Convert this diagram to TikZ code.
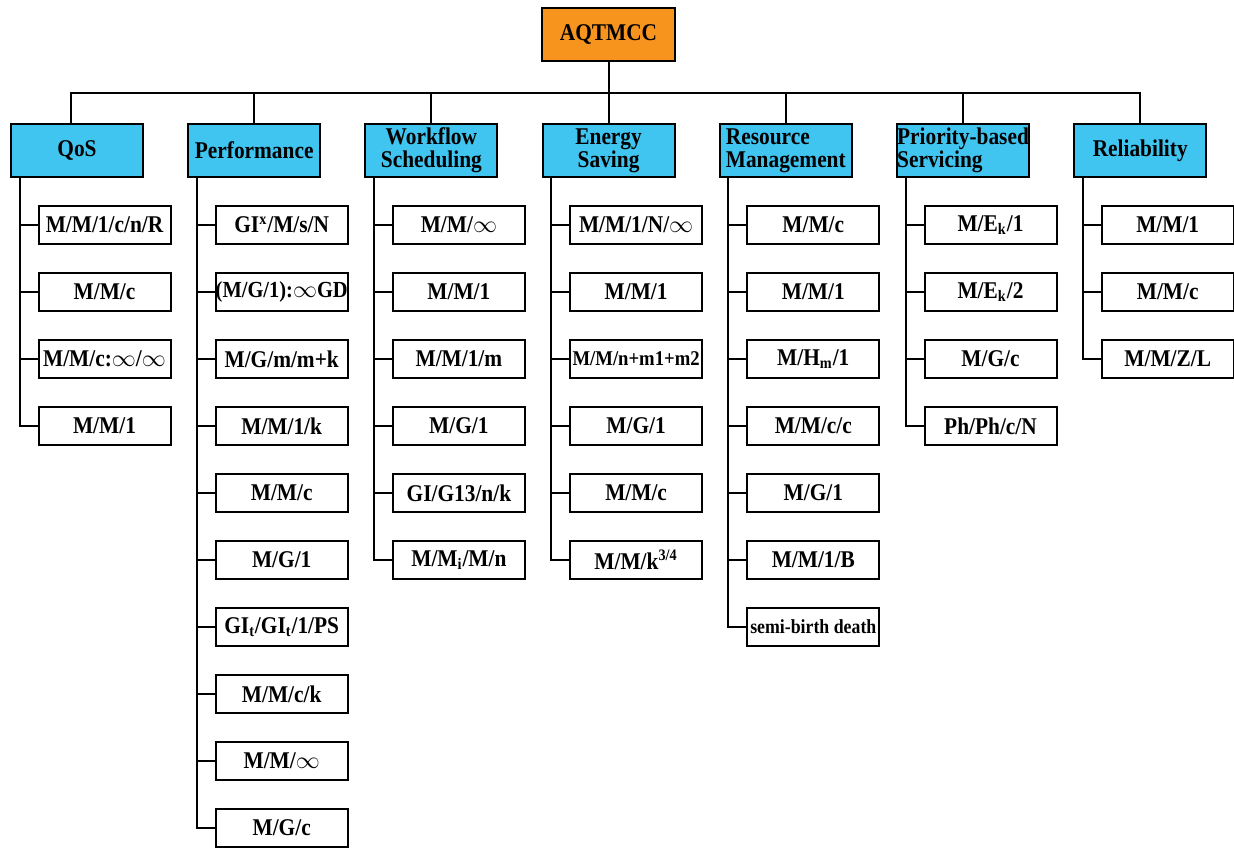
\documentclass[tikz,border=0pt]{standalone}
\usepackage{fontspec}
\setmainfont{Liberation Serif}[FakeStretch=0.89]
\usetikzlibrary{positioning}
\definecolor{rootorange}{RGB}{247,148,30}
\definecolor{catblue}{RGB}{64,196,240}
\tikzset{
	rootbox/.style={draw, fill=rootorange, minimum width=66.5pt, minimum height=26.5pt, inner sep=0pt, outer sep=0pt, font=\bfseries\fontsize{12}{11}\selectfont},
	catbox/.style={draw, fill=catblue, minimum width=66pt, minimum height=26.5pt, inner sep=0pt, outer sep=0pt, font=\bfseries\fontsize{12}{11.5}\selectfont},
	leafbox/.style={draw, fill=white, minimum width=66pt, minimum height=19pt, inner sep=0pt, outer sep=0pt, font=\bfseries\fontsize{12}{12}\selectfont},
}
\begin{document}
\begin{tikzpicture}[x=0.5pt, y=0.5pt, line width=1pt, node distance=14.5pt]
			\useasboundingbox (0,0) rectangle (1234,-847);
			% root and categories
			\node[rootbox](aqtmcc) at (608.5,-34.5)				{AQTMCC};
			\node[catbox](qos) at (77,-150.5)					{QoS};
			\node[catbox](perf)		[right=22.6pt of qos]		{Performance};
			\node[catbox, align=center](work)	[right=22.6pt of perf]	{Workflow\\Scheduling};
			\node[catbox, align=center](energy)	[right=22.6pt of work]	{Energy\\Saving};
			\node[catbox, align=left](resource)	[right=22.6pt of energy]	{Resource\\Management};
			\node[catbox, align=left](prio)		[right=22.6pt of resource]	{Priority-based\\Servicing};
			\node[catbox](rel)		[right=22.6pt of prio]		{Reliability};
			\coordinate(bus) at ([yshift=-16pt]aqtmcc.south);
			\draw(aqtmcc)      -- (bus);
			\draw([xshift=-3pt]qos.north)      |- (bus);
			\draw(perf.north)      |- (bus);
			\draw(work.north)      |- (bus);
			\draw(energy.north)      |- (bus);
			\draw(resource.north)      |- (bus);
			\draw(prio.north)      |- (bus);
			\draw(rel.north)      |- (bus);
			% QoS
			\node[leafbox](q1)	[below right=14.5pt and 13.75pt of qos.south west]	{M/M/1/c/n/R};
			\node[leafbox](q2)	[below=of q1]	{M/M/c};
			\node[leafbox](q3)	[below=of q2]	{M/M/c:$\infty$/$\infty$};
			\node[leafbox](q4)	[below=of q3]	{M/M/1};
			\coordinate(qosT) at ([xshift=4.25pt]qos.south west);
			\draw(q1.west) -| (qosT) (q2.west) -| (qosT) (q3.west) -| (qosT) (q4.west) -| (qosT);
			% Performance
			\node[leafbox](p1)	[below right=14.5pt and 13.75pt of perf.south west]	{GI\textsuperscript{x}/M/s/N};
			\node[leafbox, font=\bfseries\fontsize{11.5}{12}\selectfont](p2)	[below=of p1]	{(M/G/1):$\infty$GD};
			\node[leafbox](p3)	[below=of p2]	{M/G/m/m+k};
			\node[leafbox](p4)	[below=of p3]	{M/M/1/k};
			\node[leafbox](p5)	[below=of p4]	{M/M/c};
			\node[leafbox](p6)	[below=of p5]	{M/G/1};
			\node[leafbox](p7)	[below=of p6]	{GI\textsubscript{t}/GI\textsubscript{t}/1/PS};
			\node[leafbox](p8)	[below=of p7]	{M/M/c/k};
			\node[leafbox](p9)	[below=of p8]	{M/M/$\infty$};
			\node[leafbox](p10)	[below=of p9]	{M/G/c};
			\coordinate(perfT) at ([xshift=4.25pt]perf.south west);
			\draw(p1.west) -| (perfT) (p2.west) -| (perfT) (p3.west) -| (perfT) (p4.west) -| (perfT) (p5.west) -| (perfT)
				(p6.west) -| (perfT) (p7.west) -| (perfT) (p8.west) -| (perfT) (p9.west) -| (perfT) (p10.west) -| (perfT);
			% Workflow Scheduling
			\node[leafbox](w1)	[below right=14.5pt and 13.75pt of work.south west]	{M/M/$\infty$};
			\node[leafbox](w2)	[below=of w1]	{M/M/1};
			\node[leafbox](w3)	[below=of w2]	{M/M/1/m};
			\node[leafbox](w4)	[below=of w3]	{M/G/1};
			\node[leafbox](w5)	[below=of w4]	{GI/G13/n/k};
			\node[leafbox](w6)	[below=of w5]	{M/M\textsubscript{i}/M/n};
			\coordinate(workT) at ([xshift=4.25pt]work.south west);
			\draw(w1.west) -| (workT) (w2.west) -| (workT) (w3.west) -| (workT) (w4.west) -| (workT) (w5.west) -| (workT) (w6.west) -| (workT);
			% Energy Saving
			\node[leafbox](e1)	[below right=14.5pt and 13.75pt of energy.south west]	{M/M/1/N/$\infty$};
			\node[leafbox](e2)	[below=of e1]	{M/M/1};
			\node[leafbox, font=\bfseries\fontsize{10.5}{12}\selectfont](e3)	[below=of e2]	{M/M/n+m1+m2};
			\node[leafbox](e4)	[below=of e3]	{M/G/1};
			\node[leafbox](e5)	[below=of e4]	{M/M/c};
			\node[leafbox](e6)	[below=of e5]	{M/M/k\textsuperscript{3/4}};
			\coordinate(energyT) at ([xshift=4.25pt]energy.south west);
			\draw(e1.west) -| (energyT) (e2.west) -| (energyT) (e3.west) -| (energyT) (e4.west) -| (energyT) (e5.west) -| (energyT) (e6.west) -| (energyT);
			% Resource Management
			\node[leafbox](r1)	[below right=14.5pt and 13.75pt of resource.south west]	{M/M/c};
			\node[leafbox](r2)	[below=of r1]	{M/M/1};
			\node[leafbox](r3)	[below=of r2]	{M/H\textsubscript{m}/1};
			\node[leafbox](r4)	[below=of r3]	{M/M/c/c};
			\node[leafbox](r5)	[below=of r4]	{M/G/1};
			\node[leafbox](r6)	[below=of r5]	{M/M/1/B};
			\node[leafbox, font=\bfseries\fontsize{10}{12}\selectfont](r7)	[below=of r6]	{semi-birth death};
			\coordinate(resourceT) at ([xshift=4.25pt]resource.south west);
			\draw(r1.west) -| (resourceT) (r2.west) -| (resourceT) (r3.west) -| (resourceT) (r4.west) -| (resourceT) (r5.west) -| (resourceT)
				(r6.west) -| (resourceT) (r7.west) -| (resourceT);
			% Priority-based Servicing
			\node[leafbox](s1)	[below right=14.5pt and 13.75pt of prio.south west]	{M/E\textsubscript{k}/1};
			\node[leafbox](s2)	[below=of s1]	{M/E\textsubscript{k}/2};
			\node[leafbox](s3)	[below=of s2]	{M/G/c};
			\node[leafbox](s4)	[below=of s3]	{Ph/Ph/c/N};
			\coordinate(prioT) at ([xshift=4.25pt]prio.south west);
			\draw(s1.west) -| (prioT) (s2.west) -| (prioT) (s3.west) -| (prioT) (s4.west) -| (prioT);
			% Reliability
			\node[leafbox](l1)	[below right=14.5pt and 13.75pt of rel.south west]	{M/M/1};
			\node[leafbox](l2)	[below=of l1]	{M/M/c};
			\node[leafbox](l3)	[below=of l2]	{M/M/Z/L};
			\coordinate(relT) at ([xshift=4.25pt]rel.south west);
			\draw(l1.west) -| (relT) (l2.west) -| (relT) (l3.west) -| (relT);
		\end{tikzpicture}
\end{document}
